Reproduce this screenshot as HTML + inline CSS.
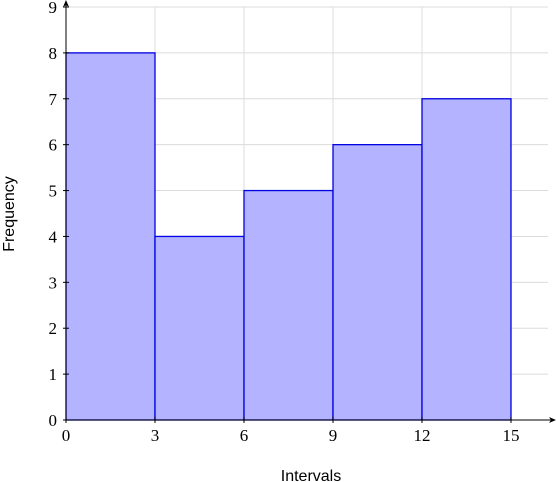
<!DOCTYPE html>
<html><head><meta charset="utf-8"><style>
body{margin:0;background:#fff;}
svg{display:block;}
.tick{font-family:"Liberation Serif",serif;font-size:17px;fill:#000;}
.lab{font-family:"Liberation Sans",sans-serif;font-size:16px;fill:#000;}
</style></head><body>
<svg id="chart" width="556" height="482" viewBox="0 0 556 482"></svg>
<script>
const intervalStarts=[0,3,6,9,12];
const intervalWidth=3;
const frequencies=[8,4,5,6,7];
const xTicks=[0,3,6,9,12,15];
const yTicks=[0,1,2,3,4,5,6,7,8,9];
const NS="http://www.w3.org/2000/svg";
const svg=document.getElementById('chart');
const X0=66,XS=(511-66)/15,Y0=420,YS=(420-7)/9;
const sx=v=>X0+v*XS, sy=v=>Y0-v*YS;
function mk(t,a,p){const e=document.createElementNS(NS,t);for(const k in a)e.setAttribute(k,a[k]);(p||svg).appendChild(e);return e;}
const grid=mk('g',{});


for(const v of yTicks){if(v===0)continue;mk('line',{x1:X0,x2:548,y1:sy(v),y2:sy(v),stroke:'#dcdcdc','stroke-width':1},grid);}
for(const v of xTicks){if(v===0)continue;mk('line',{x1:sx(v),x2:sx(v),y1:Y0,y2:sy(9),stroke:'#dcdcdc','stroke-width':1},grid);}
const bars=mk('g',{});


intervalStarts.forEach((s,i)=>{
  const r=mk('rect',{x:sx(s),y:sy(frequencies[i]),width:sx(s+intervalWidth)-sx(s),height:Y0-sy(frequencies[i]),fill:'#b3b3ff',stroke:'#0000e0','stroke-width':1.3},bars);
  
  
});
const ax=mk('g',{});


mk('line',{x1:X0,x2:552,y1:Y0,y2:Y0,stroke:'#000','stroke-width':1},ax);
mk('path',{d:'M556 420 L549 417 L551 420 L549 423 Z',fill:'#000'},ax);
mk('line',{x1:X0,x2:X0,y1:Y0,y2:4,stroke:'#000','stroke-width':1},ax);
mk('path',{d:'M66 0 L63 7 L66 5 L69 7 Z',fill:'#000'},ax);
for(const v of xTicks){
  mk('line',{x1:sx(v),x2:sx(v),y1:Y0-3,y2:Y0+3,stroke:'#000'},ax);
  const t=mk('text',{x:sx(v),y:441,'text-anchor':'middle',class:'tick'},ax);t.textContent=v;
  
  
}
for(const v of yTicks){
  mk('line',{x1:X0-3,x2:X0+3,y1:sy(v),y2:sy(v),stroke:'#000'},ax);
  const t=mk('text',{x:57,y:sy(v)+6,'text-anchor':'end',class:'tick'},ax);t.textContent=v;
  
  
}
const xl=mk('text',{x:311,y:481,'text-anchor':'middle',class:'lab'});xl.textContent='Intervals';


const yl=mk('text',{x:14,y:214,'text-anchor':'middle',class:'lab',transform:'rotate(-90 14 214)'});yl.textContent='Frequency';


</script>
</body></html>
